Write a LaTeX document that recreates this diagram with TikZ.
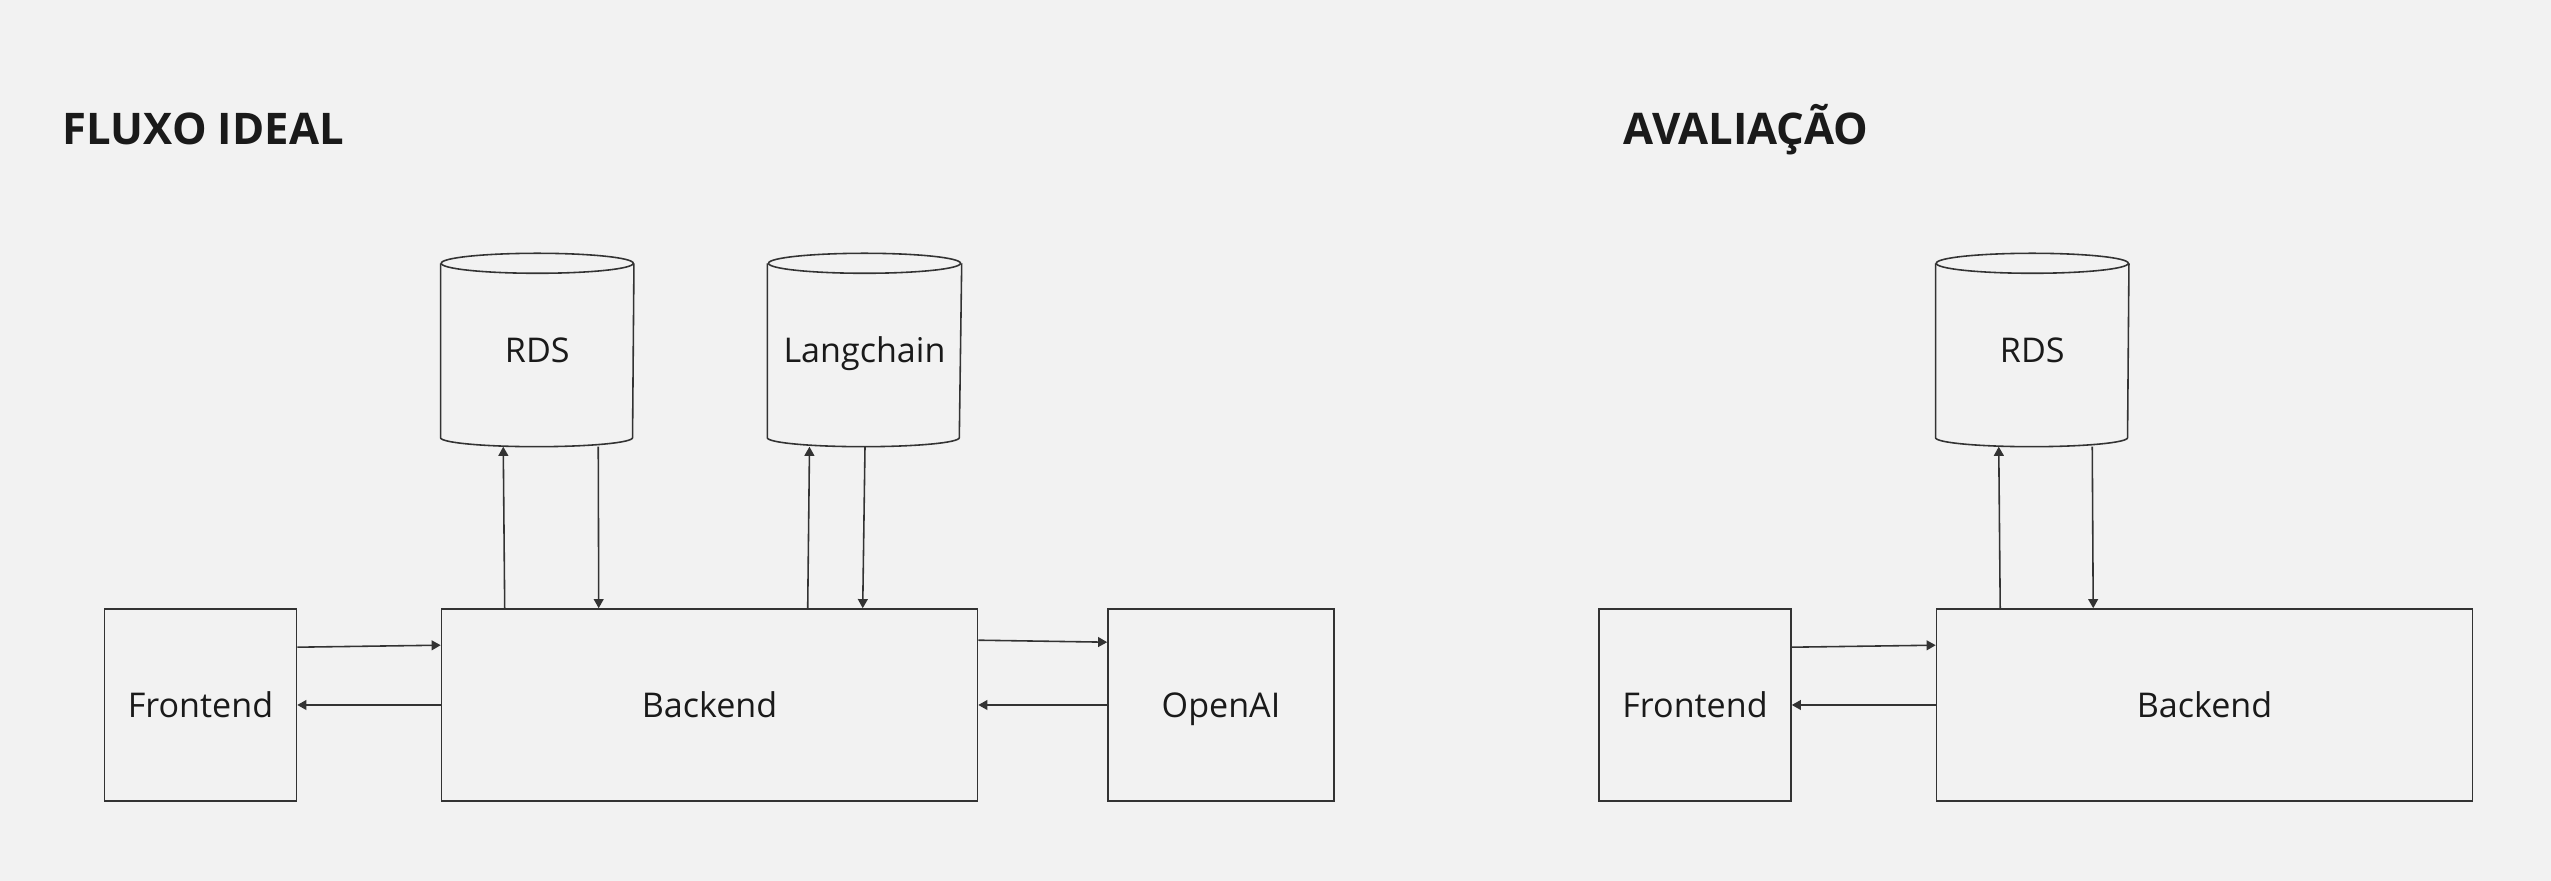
\documentclass[tikz,border=0pt]{standalone}
\usepackage{fontspec}
\setmainfont{Open Sans}
\definecolor{PaperGray}{HTML}{F2F2F2}
\definecolor{InkGray}{HTML}{333333}
\definecolor{TextBlack}{HTML}{1A1A1A}
\usetikzlibrary{
  arrows.meta,
  calc
}

\begin{document}
\begin{tikzpicture}[
  block/.style={
    rectangle, draw=InkGray, line width=0.45pt,
    minimum height=1.92cm, inner sep=0pt,
    text height=0.72em, text depth=0pt,
    font=\fontsize{9.7}{11}\selectfont, text=TextBlack
  },
  store/.style={
    rectangle, minimum height=1.92cm, inner sep=0pt,
    text height=0.72em, text depth=0pt,
    font=\fontsize{9.7}{11}\selectfont, text=TextBlack
  },
  outline/.style={draw=InkGray, line width=0.45pt},
  flow/.style={
    draw=InkGray, line width=0.45pt,
    -{Triangle[length=2.6pt, width=2.8pt]}
  },
  heading/.style={
    anchor=base west, font=\fontsize{12.4}{15}\selectfont\bfseries,
    text=TextBlack, inner sep=0pt
  }
]
  % Page (2551 x 881 px, 1cm = 100px)
  \fill[PaperGray] (0,0) rectangle (25.51,8.81);
  \useasboundingbox (0,0) rectangle (25.51,8.81);

  % Titles
  \node[heading] (tIdeal) at (0.62,7.36) {FLUXO IDEAL};
  \node[heading] (tEval) at (16.23,7.36) {AVALIAÇÃO};

  % Ideal flow: boxes
  \node[block, minimum width=1.92cm] (fe1) at (2.005,1.76) {Frontend};
  \node[block, minimum width=5.36cm] (be1) at (7.095,1.76) {Backend};
  \node[block, minimum width=2.26cm] (oa) at (12.21,1.76) {OpenAI};

  % Ideal flow: stores
  \node[store, minimum width=1.92cm] (rds1) at (5.3725,5.31) {RDS};
  \node[store, minimum width=1.93cm] (lc) at (8.645,5.31) {Langchain};

  % Evaluation: boxes and store
  \node[block, minimum width=1.92cm] (fe2) at (16.95,1.76) {Frontend};
  \node[block, minimum width=5.36cm] (be2) at (22.045,1.76) {Backend};
  \node[store, minimum width=1.92cm] (rds2) at (20.3225,5.31) {RDS};

  % Cylinder outlines round the stores
  \foreach \db in {rds1, lc, rds2} {
    \draw[outline] ($(\db.north west)+(0,-0.10)$)
      -- ($(\db.south west)+(0,0.09)$)
      arc[start angle=180, end angle=360, x radius=0.96, y radius=0.09]
      -- ($(\db.north east)+(0,-0.10)$);
    \draw[outline] ($(\db.north)+(0,-0.10)$)
      ellipse[x radius=0.96, y radius=0.10];
  }

  % Ideal flow: connectors
  \draw[flow] ($(fe1.north east)+(0,-0.39)$) -- ($(be1.north west)+(0,-0.37)$);
  \draw[flow] (be1.west) -- (fe1.east);
  \draw[flow] ($(be1.north east)+(0,-0.32)$) -- ($(oa.north west)+(0,-0.34)$);
  \draw[flow] (oa.west) -- (be1.east);
  \draw[flow] ($(be1.north west)+(0.64,0)$) -- ($(rds1.south)+(-0.34,0)$);
  \draw[flow] ($(rds1.south)+(0.61,0)$) -- ($(be1.north west)+(1.58,0)$);
  \draw[flow] ($(be1.north west)+(3.67,0)$) -- ($(lc.south)+(-0.55,0)$);
  \draw[flow] ($(lc.south)+(0.005,0)$) -- ($(be1.north west)+(4.22,0)$);

  % Evaluation: connectors
  \draw[flow] ($(fe2.north east)+(0,-0.39)$) -- ($(be2.north west)+(0,-0.37)$);
  \draw[flow] (be2.west) -- (fe2.east);
  \draw[flow] ($(be2.north west)+(0.645,0)$) -- ($(rds2.south)+(-0.335,0)$);
  \draw[flow] ($(rds2.south)+(0.60,0)$) -- ($(be2.north west)+(1.575,0)$);
\end{tikzpicture}
\end{document}
